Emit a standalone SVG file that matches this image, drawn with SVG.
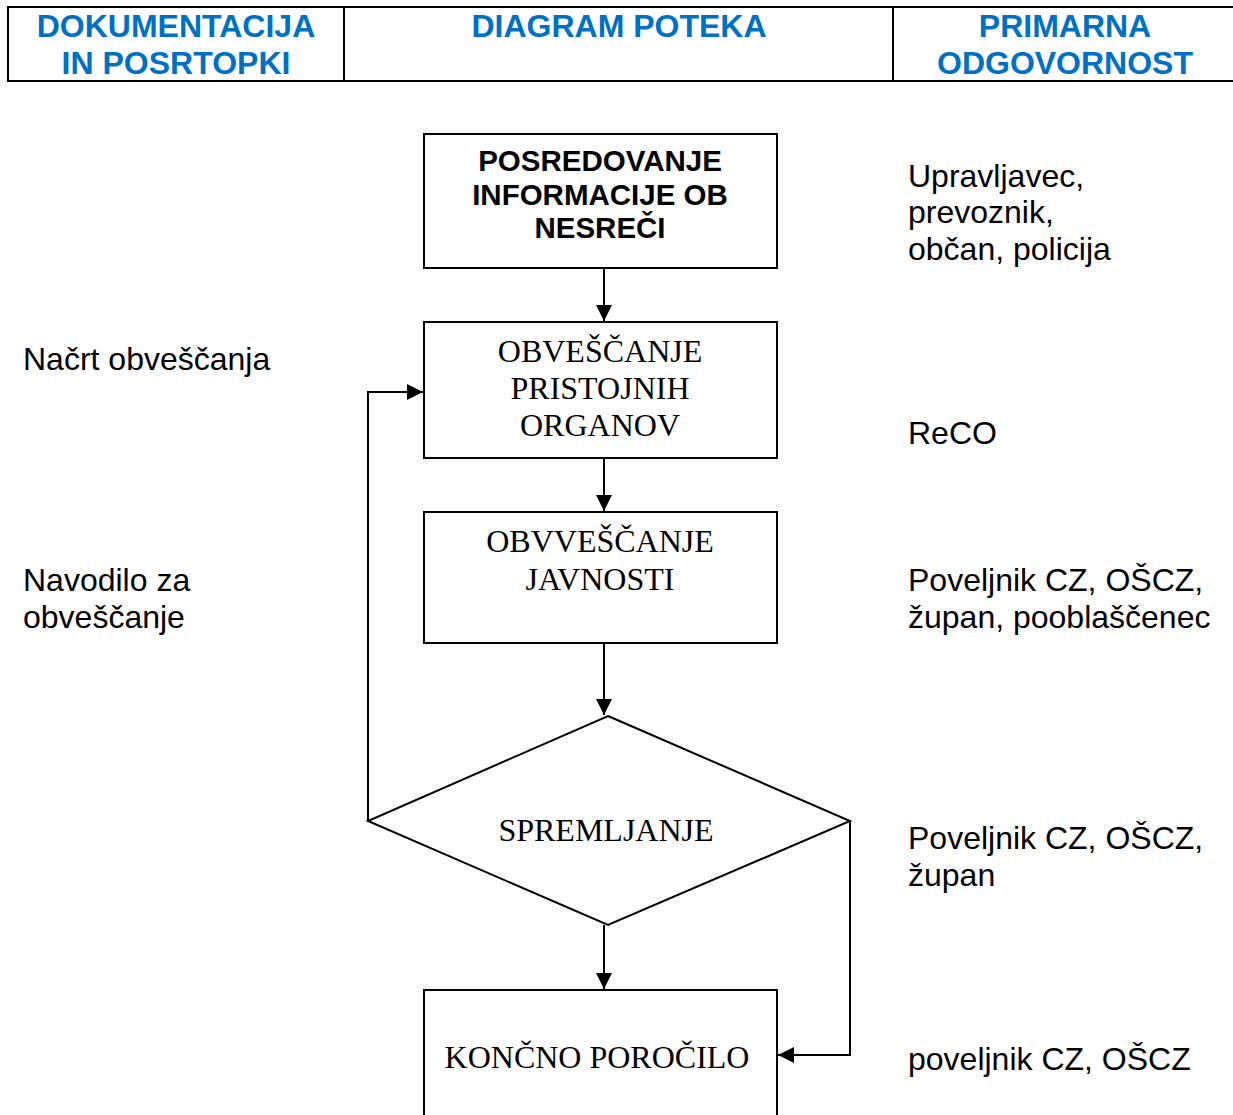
<svg xmlns="http://www.w3.org/2000/svg" width="1233" height="1115" viewBox="0 0 1233 1115">
<style>
.hd{font-family:"Liberation Sans",Arial,sans-serif;font-weight:bold;font-size:32px;fill:#0070C0;text-anchor:middle}
.bx{fill:#fff;stroke:#000;stroke-width:2}
.sb{font-family:"Liberation Sans",Arial,sans-serif;font-weight:bold;font-size:29.5px;fill:#000;text-anchor:middle}
.sr{font-family:"Liberation Serif","Times New Roman",serif;font-size:32px;fill:#000;text-anchor:middle}
.tx{font-family:"Liberation Sans",Arial,sans-serif;font-size:32px;fill:#000}
.cn{fill:none;stroke:#000;stroke-width:2}
</style>
<defs>
<marker id="ah" markerUnits="userSpaceOnUse" markerWidth="17" markerHeight="16" refX="16" refY="8" orient="auto">
<path d="M0,0 L16,8 L0,16 Z" fill="#000"/>
</marker>
</defs>
<rect width="1233" height="1115" fill="#fff"/>
<g id="header">
<rect x="8" y="7" width="1235" height="74" fill="none" stroke="#000" stroke-width="2"/>
<line x1="344" y1="7" x2="344" y2="81" stroke="#000" stroke-width="2"/>
<line x1="893" y1="7" x2="893" y2="81" stroke="#000" stroke-width="2"/>
<text class="hd" x="176" y="37">DOKUMENTACIJA</text>
<text class="hd" x="176" y="74">IN POSRTOPKI</text>
<text class="hd" x="619" y="37">DIAGRAM POTEKA</text>
<text class="hd" x="1065" y="37">PRIMARNA</text>
<text class="hd" x="1065" y="74">ODGOVORNOST</text>
</g>
<g id="connectors">
<line class="cn" x1="604" y1="268" x2="604" y2="321" marker-end="url(#ah)"/>
<line class="cn" x1="604" y1="458" x2="604" y2="511" marker-end="url(#ah)"/>
<line class="cn" x1="604" y1="643" x2="604" y2="715" marker-end="url(#ah)"/>
<line class="cn" x1="604" y1="925" x2="604" y2="989" marker-end="url(#ah)"/>
<polyline class="cn" points="850,821 850,1055 778,1055" marker-end="url(#ah)"/>
<polyline class="cn" points="368,821 368,392 423,392" marker-end="url(#ah)"/>
</g>
<g id="n1">
<rect class="bx" x="424" y="134" width="353" height="134"/>
<text class="sb" x="600" y="171">POSREDOVANJE</text>
<text class="sb" x="600" y="205">INFORMACIJE OB</text>
<text class="sb" x="600" y="238">NESREČI</text>
</g>
<g id="n2">
<rect class="bx" x="424" y="322" width="353" height="136"/>
<text class="sr" x="600" y="362">OBVEŠČANJE</text>
<text class="sr" x="600" y="399">PRISTOJNIH</text>
<text class="sr" x="600" y="436">ORGANOV</text>
</g>
<g id="n3">
<rect class="bx" x="424" y="512" width="353" height="131"/>
<text class="sr" x="600" y="552">OBVVEŠČANJE</text>
<text class="sr" x="600" y="590">JAVNOSTI</text>
</g>
<g id="n4">
<polygon class="bx" points="608,716 850,821 608,925 368,821"/>
<text class="sr" x="606" y="841">SPREMLJANJE</text>
</g>
<g id="n5">
<rect class="bx" x="424" y="990" width="353" height="140"/>
<text class="sr" x="597" y="1068">KONČNO POROČILO</text>
</g>
<g id="left-labels">
<text class="tx" x="23" y="370">Načrt obveščanja</text>
<text class="tx" x="23" y="591">Navodilo za</text>
<text class="tx" x="23" y="628">obveščanje</text>
</g>
<g id="right-labels">
<text class="tx" x="908" y="187">Upravljavec,</text>
<text class="tx" x="908" y="223">prevoznik,</text>
<text class="tx" x="908" y="260">občan, policija</text>
<text class="tx" x="908" y="444">ReCO</text>
<text class="tx" x="908" y="591">Poveljnik CZ, OŠCZ,</text>
<text class="tx" x="908" y="628">župan, pooblaščenec</text>
<text class="tx" x="908" y="849">Poveljnik CZ, OŠCZ,</text>
<text class="tx" x="908" y="886">župan</text>
<text class="tx" x="908" y="1070">poveljnik CZ, OŠCZ</text>
</g>
</svg>
